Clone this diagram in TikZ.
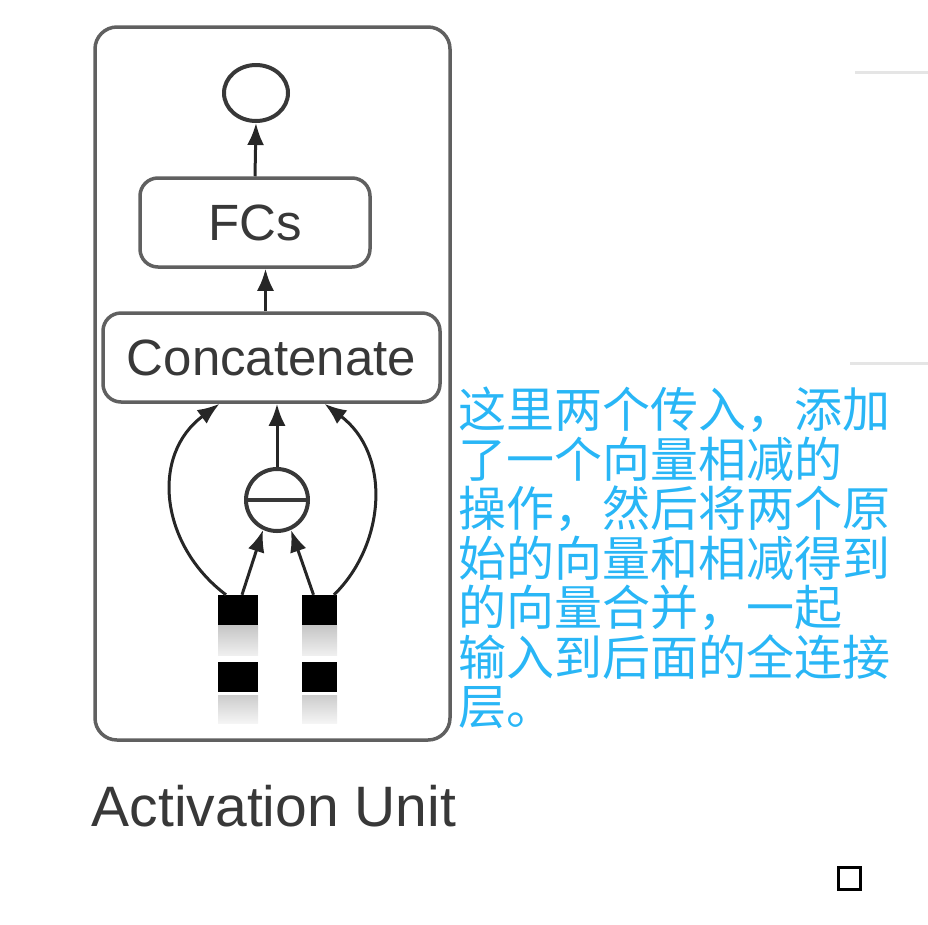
\documentclass[tikz,border=0pt]{standalone}
\usepackage{fontspec}
\setmainfont{Liberation Sans}
\newfontfamily\cjk{Noto Sans CJK SC}
\usetikzlibrary{arrows.meta,shapes.geometric,positioning}
\definecolor{labelgray}{RGB}{56,56,56}
\definecolor{linegray}{RGB}{96,96,96}
\definecolor{noteblue}{RGB}{41,182,246}
\tikzset{
  box/.style={draw=linegray, line width=3.5pt, rounded corners=18pt, fill=white, text=labelgray, inner sep=0pt, font=\fontsize{51}{56}\selectfont},
  unitbox/.style={draw=linegray, line width=3.5pt, rounded corners=22pt, inner sep=0pt},
  circ/.style={draw=labelgray, line width=4pt, inner sep=0pt},
  flow/.style={draw=black!85, line width=3pt, -{Latex[length=22pt,width=17pt]}},
  blk/.style={fill=black, minimum height=30pt, inner sep=0pt},
  fade/.style={top color=gray!45, bottom color=gray!12, minimum height=30pt, inner sep=0pt},
  note/.style={text=noteblue, inner sep=0pt, align=left, font=\cjk\fontsize{48}{49.5}\selectfont}
}
\begin{document}
\begin{tikzpicture}[x=1pt, y=-1pt]
  \useasboundingbox (0,0) rectangle (928,924);

  % activation unit
  \node[unitbox, minimum width=355, minimum height=713] (unit) at (272.5,383.5) {};
  \node[circ, ellipse, minimum width=64, minimum height=56] (out) at (256,93) {};
  \node[box, minimum width=230, minimum height=89] (fcs) at (255,222.5) {FCs};
  \node[box, minimum width=337, minimum height=89] (concat) at (271.5,357.5) {Concatenate};
  \node[circ, circle, minimum size=62] (minus) at (277,500) {};
  \draw[labelgray, line width=4.5pt] (minus.west) -- (minus.east);

  % input embeddings
  \node[blk, minimum width=40] (la1) at (238,610) {};
  \node[fade, minimum width=40, below=0pt of la1] (la2) {};
  \node[blk, minimum width=40] (la3) at (238,677) {};
  \node[fade, minimum width=40, minimum height=28, top color=gray!40, bottom color=gray!8] (la4) at (238,709) {};
  \node[blk, minimum width=35] (ra1) at (319.5,610) {};
  \node[fade, minimum width=35, below=0pt of ra1] (ra2) {};
  \node[blk, minimum width=35] (ra3) at (319.5,677) {};
  \node[fade, minimum width=35, minimum height=28, top color=gray!40, bottom color=gray!8] (ra4) at (319.5,709) {};

  \draw[flow] (fcs.north) -- (out.south);
  \draw[flow] ([xshift=-6pt]concat.north) -- ([xshift=-6pt]concat.north |- fcs.south);
  \draw[flow] (minus.north) -- (minus.north |- concat.south);
  \draw[flow] ([xshift=4pt]la1.north) -- (minus.245);
  \draw[flow] ([xshift=-6pt]ra1.north) -- (minus.295);
  \draw[flow] ([xshift=-12pt]la1.north) .. controls (160,545) and (150,455) .. ([xshift=-52pt]concat.south);
  \draw[flow] ([xshift=14.5pt]ra1.north) .. controls (385,545) and (392,455) .. ([xshift=53pt]concat.south);

  \node[text=labelgray, font=\fontsize{57}{62}\selectfont, anchor=base] (caption) at (274,826) {Activation Unit};

  % note
  \node[note, anchor=north west] (remark) at (458,387) {这里两个传入，添加\\了一个向量相减的\\操作，然后将两个原\\始的向量和相减得到\\的向量合并，一起\\输入到后面的全连接\\层。};

  % screen leftovers
  \draw[gray!20, line width=3pt] (855,72) -- (928,72);
  \draw[gray!20, line width=3pt] (850,363) -- (928,363);
  \node[draw=black, line width=3pt, minimum size=22, inner sep=0pt] (mark) at (849,878) {};
\end{tikzpicture}
\end{document}
